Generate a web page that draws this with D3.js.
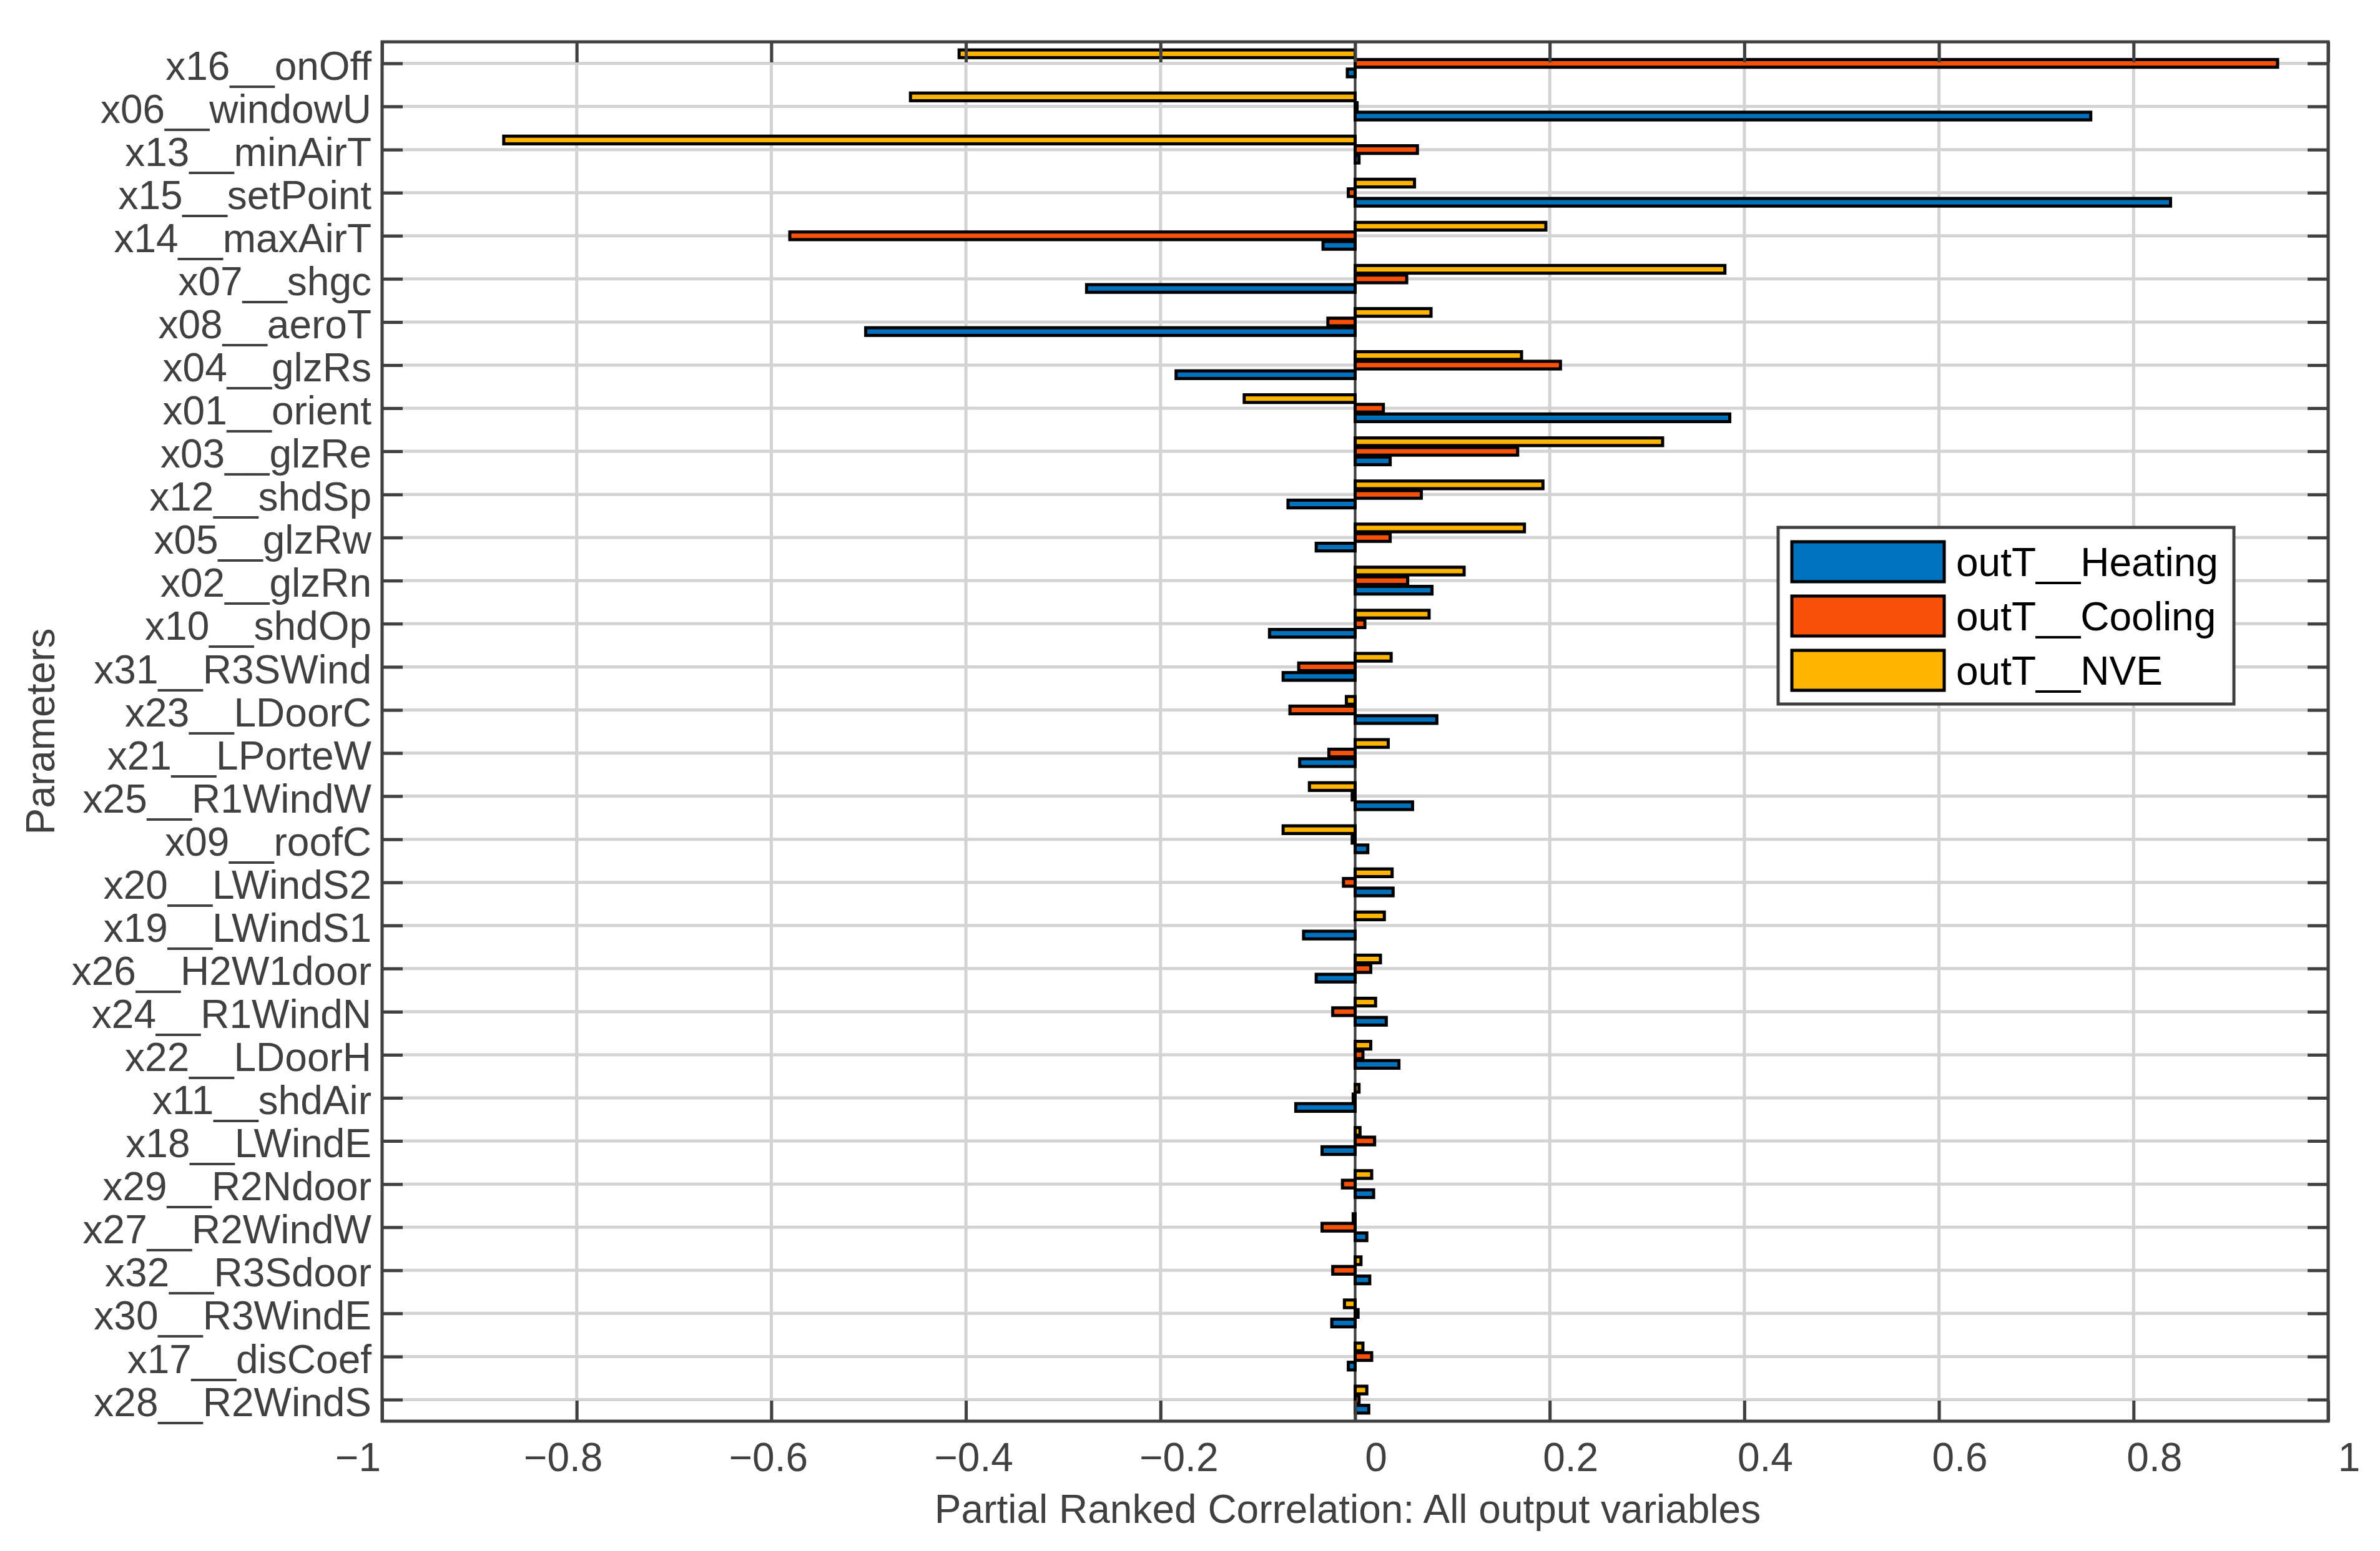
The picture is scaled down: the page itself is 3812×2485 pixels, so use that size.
<!DOCTYPE html>
<html>
<head>
<meta charset="utf-8">
<script src="https://cdn.jsdelivr.net/npm/d3@7"></script>
<style>
  html, body { margin: 0; padding: 0; background: #ffffff; }
  svg { display: block; }
  text { font-family: "Liberation Sans", Helvetica, Arial, sans-serif; }
</style>
</head>
<body>
<svg id="chart" width="3812" height="2485"></svg>
<script>
// ---------------- DATA ----------------
const categories = [
  "x16__onOff", "x06__windowU", "x13__minAirT", "x15__setPoint", "x14__maxAirT",
  "x07__shgc", "x08__aeroT", "x04__glzRs", "x01__orient", "x03__glzRe",
  "x12__shdSp", "x05__glzRw", "x02__glzRn", "x10__shdOp", "x31__R3SWind",
  "x23__LDoorC", "x21__LPorteW", "x25__R1WindW", "x09__roofC", "x20__LWindS2",
  "x19__LWindS1", "x26__H2W1door", "x24__R1WindN", "x22__LDoorH", "x11__shdAir",
  "x18__LWindE", "x29__R2Ndoor", "x27__R2WindW", "x32__R3Sdoor", "x30__R3WindE",
  "x17__disCoef", "x28__R2WindS"
];

const heatingValues = [
  -0.008, 0.756, 0.004, 0.838, -0.033, -0.276, -0.503, -0.184, 0.385, 0.036,
  -0.069, -0.040, 0.079, -0.088, -0.074, 0.084, -0.057, 0.059, 0.013, 0.039,
  -0.053, -0.040, 0.032, 0.045, -0.061, -0.034, 0.019, 0.012, 0.015, -0.024,
  -0.007, 0.014
];

const coolingValues = [
  0.948, 0.002, 0.064, -0.007, -0.581, 0.053, -0.028, 0.211, 0.029, 0.167,
  0.068, 0.036, 0.054, 0.010, -0.058, -0.067, -0.027, -0.003, -0.003, -0.012,
  0.000, 0.016, -0.023, 0.008, -0.002, 0.020, -0.013, -0.034, -0.023, 0.003,
  0.017, 0.004
];

const nveValues = [
  -0.407, -0.457, -0.875, 0.061, 0.196, 0.380, 0.078, 0.171, -0.114, 0.316,
  0.193, 0.174, 0.112, 0.076, 0.037, -0.009, 0.034, -0.047, -0.074, 0.038,
  0.030, 0.026, 0.021, 0.016, 0.004, 0.005, 0.017, -0.002, 0.006, -0.011,
  0.008, 0.012
];

const seriesNames = ["outT__Heating", "outT__Cooling", "outT__NVE"];
const seriesColors = ["#0072BD", "#F8520A", "#FFB400"];
const xTickValues = [-1, -0.8, -0.6, -0.4, -0.2, 0, 0.2, 0.4, 0.6, 0.8, 1];
const xLabel = "Partial Ranked Correlation: All output variables";
const yLabel = "Parameters";

// ---------------- LAYOUT ----------------
const W = 3812, H = 2485;
const plot = { left: 612, right: 3729, top: 67, bottom: 2277 };
const axisColor = "#404040";
const gridColor = "#d3d3d3";
const fontSize = 64;
const tickLen = 33;

const svg = d3.select("#chart");

const x = d3.scaleLinear().domain([-1, 1]).range([plot.left, plot.right]);
const y = d3.scalePoint().domain(categories).range([plot.top, plot.bottom]).padding(0.5);
const step = y.step();

// series order within each group (top -> bottom on screen): NVE, Cooling, Heating
const series = [
  { name: seriesNames[0], color: seriesColors[0], values: heatingValues, slot: 2 },
  { name: seriesNames[1], color: seriesColors[1], values: coolingValues, slot: 1 },
  { name: seriesNames[2], color: seriesColors[2], values: nveValues, slot: 0 }
];
const groupWidth = 3 / 4.5;           // MATLAB grouped bar width
const slotScale = d3.scalePoint().domain([0, 1, 2]).range([-groupWidth / 3 * step, groupWidth / 3 * step]);
const barH = 0.8 * groupWidth / 3 * step;

// ---------------- GRID ----------------
const grid = svg.append("g");
grid.selectAll("line.vg").data(xTickValues).join("line")
  .attr("x1", d => x(d)).attr("x2", d => x(d))
  .attr("y1", plot.top).attr("y2", plot.bottom)
  .attr("stroke", gridColor).attr("stroke-width", 5);
grid.selectAll("line.hg").data(categories).join("line")
  .attr("x1", plot.left).attr("x2", plot.right)
  .attr("y1", d => y(d)).attr("y2", d => y(d))
  .attr("stroke", gridColor).attr("stroke-width", 5);

// ---------------- BASELINE ----------------
svg.append("line")
  .attr("x1", x(0)).attr("x2", x(0))
  .attr("y1", plot.top).attr("y2", plot.bottom)
  .attr("stroke", axisColor).attr("stroke-width", 4);

// ---------------- BARS ----------------
series.forEach(s => {
  svg.append("g").selectAll("rect").data(categories).join("rect")
    .attr("x", (c, i) => Math.min(x(0), x(s.values[i])))
    .attr("width", (c, i) => Math.abs(x(s.values[i]) - x(0)))
    .attr("y", c => y(c) + slotScale(s.slot) - barH / 2)
    .attr("height", barH)
    .attr("fill", s.color)
    .attr("stroke", "#000")
    .attr("stroke-width", 5);
});

// ---------------- AXES ----------------
const fmt = d => d3.format("")(d);
const axB = svg.append("g").attr("transform", `translate(0,${plot.bottom})`)
  .call(d3.axisBottom(x).tickValues(xTickValues).tickFormat(fmt).tickSize(-tickLen).tickPadding(35));
const axT = svg.append("g").attr("transform", `translate(0,${plot.top})`)
  .call(d3.axisTop(x).tickValues(xTickValues).tickFormat("").tickSize(-tickLen));
const axL = svg.append("g").attr("transform", `translate(${plot.left},0)`)
  .call(d3.axisLeft(y).tickSize(-tickLen).tickPadding(17));
const axR = svg.append("g").attr("transform", `translate(${plot.right},0)`)
  .call(d3.axisRight(y).tickFormat("").tickSize(-tickLen));

[axB, axT, axL, axR].forEach(g => {
  g.select(".domain").remove();
  g.selectAll(".tick line").attr("stroke", axisColor).attr("stroke-width", 5);
  g.selectAll("text").attr("fill", axisColor).attr("font-size", fontSize)
    .attr("font-family", "'Liberation Sans', Helvetica, Arial, sans-serif");
});
axL.selectAll(".tick text").attr("dy", "0.4em");
axB.selectAll(".tick text").attr("dx", d => d < 0 ? 46 + 85 * d : 33);

// axes box
svg.append("rect")
  .attr("x", plot.left).attr("y", plot.top)
  .attr("width", plot.right - plot.left).attr("height", plot.bottom - plot.top)
  .attr("fill", "none").attr("stroke", axisColor).attr("stroke-width", 5);

// ---------------- LABELS ----------------
svg.append("text")
  .attr("x", (plot.left + plot.right) / 2 - 12).attr("y", 2440)
  .attr("text-anchor", "middle").attr("font-size", fontSize).attr("fill", axisColor)
  .text(xLabel);

svg.append("text")
  .attr("transform", `translate(87,${(plot.top + plot.bottom) / 2}) rotate(-90)`)
  .attr("text-anchor", "middle").attr("font-size", fontSize).attr("fill", axisColor)
  .text(yLabel);

// ---------------- LEGEND ----------------
const leg = svg.append("g").attr("transform", "translate(2848,845)");
leg.append("rect").attr("width", 730).attr("height", 283)
  .attr("fill", "#fff").attr("stroke", axisColor).attr("stroke-width", 5);
const legItems = leg.selectAll("g.item").data(d3.range(seriesNames.length)).join("g")
  .attr("transform", i => `translate(22,${23 + i * 87})`);
legItems.append("rect").attr("width", 244).attr("height", 64)
  .attr("fill", i => seriesColors[i]).attr("stroke", "#000").attr("stroke-width", 5);
legItems.append("text").attr("x", 263).attr("y", 32).attr("dy", "0.36em")
  .attr("font-size", fontSize).attr("fill", "#000")
  .text(i => seriesNames[i]);
</script>
</body>
</html>
